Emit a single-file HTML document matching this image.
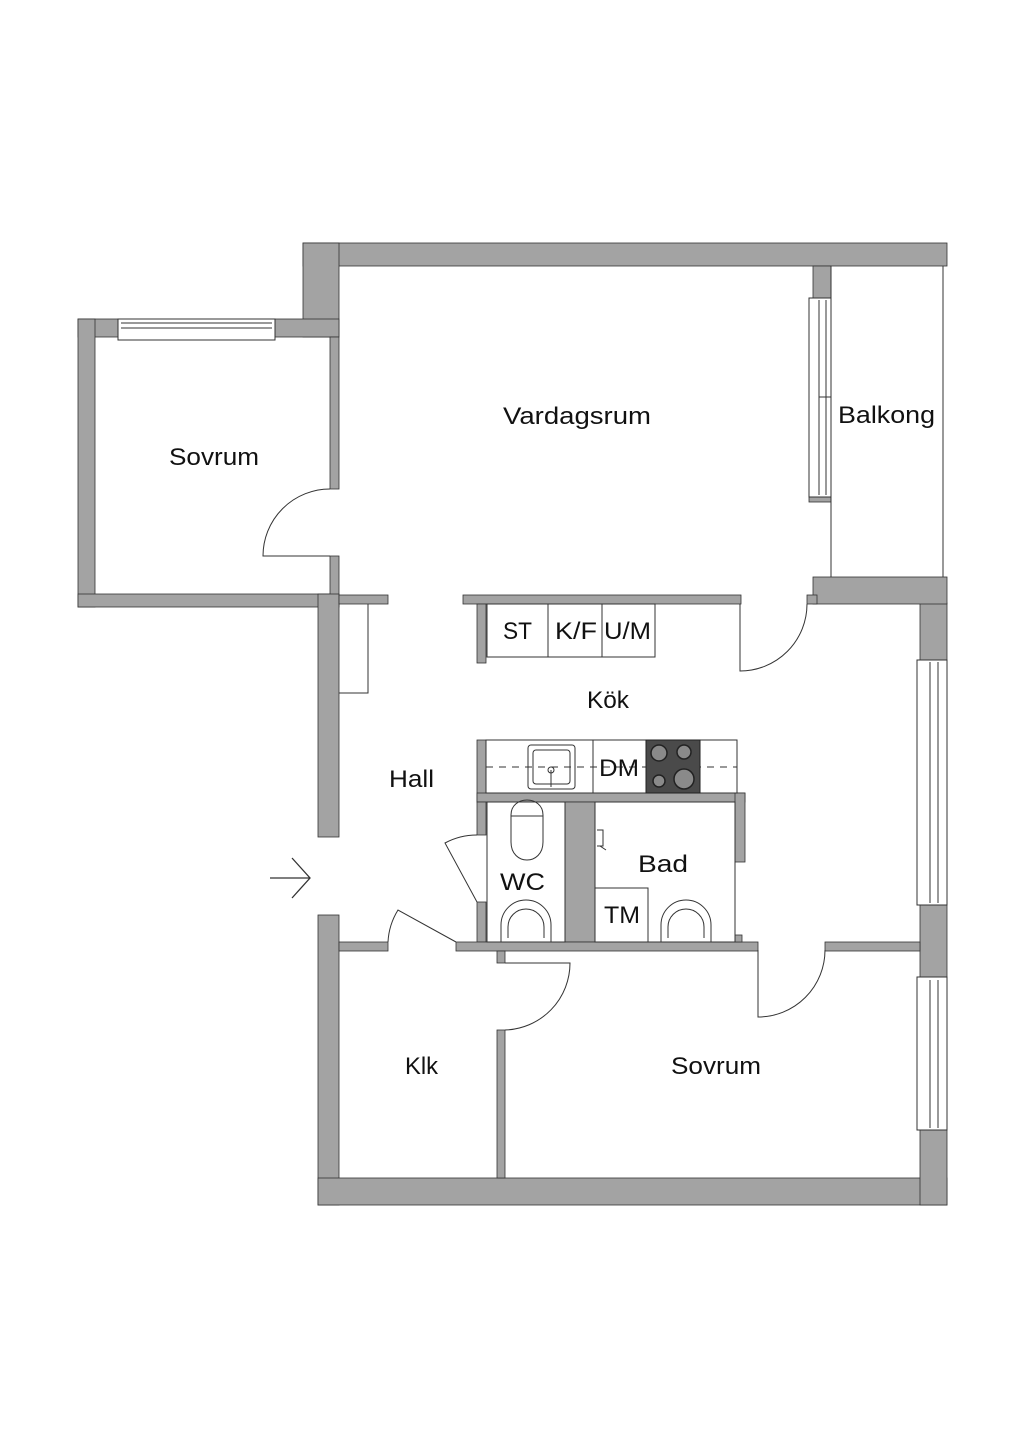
<!DOCTYPE html>
<html><head><meta charset="utf-8"><style>
html,body{margin:0;padding:0;background:#fff;}
svg{display:block;}
text{font-family:"Liberation Sans",sans-serif;fill:#111;}
</style></head><body>
<svg width="1024" height="1448" viewBox="0 0 1024 1448" xmlns="http://www.w3.org/2000/svg">
<g fill="#a3a3a3" stroke="#333" stroke-width="0.8">
<rect x="303" y="243" width="644" height="23"/>
<rect x="303" y="243" width="36" height="94"/>
<rect x="78" y="319" width="40" height="18"/>
<rect x="275" y="319" width="64" height="18"/>
<rect x="78" y="319" width="17" height="288"/>
<rect x="78" y="594" width="261" height="13"/>
<rect x="330" y="337" width="9" height="152"/>
<rect x="330" y="556" width="9" height="51"/>
<rect x="318" y="594" width="21" height="243"/>
<rect x="339" y="595" width="49" height="9"/>
<rect x="318" y="915" width="21" height="290"/>
<rect x="318" y="1178" width="629" height="27"/>
<rect x="920" y="603" width="27" height="58"/>
<rect x="920" y="905" width="27" height="72"/>
<rect x="920" y="1130" width="27" height="75"/>
<rect x="813" y="266" width="18" height="32"/>
<rect x="809" y="497" width="22" height="5"/>
<rect x="813" y="577" width="134" height="27"/>
<rect x="807" y="595" width="10" height="9"/>
<rect x="463" y="595" width="278" height="9"/>
<rect x="477" y="604" width="9" height="59"/>
<rect x="477" y="740" width="9" height="62"/>
<rect x="477" y="793" width="268" height="9"/>
<rect x="735" y="793" width="10" height="69"/>
<rect x="565" y="802" width="30" height="140"/>
<rect x="477" y="802" width="9" height="33"/>
<rect x="477" y="902" width="9" height="40"/>
<rect x="456" y="942" width="302" height="9"/>
<rect x="735" y="935" width="7" height="7"/>
<rect x="497" y="951" width="8" height="12"/>
<rect x="339" y="942" width="49" height="9"/>
<rect x="825" y="942" width="95" height="9"/>
<rect x="497" y="1030" width="8" height="148"/>
</g>
<g fill="none" stroke="#333" stroke-width="1">
<rect x="118" y="319" width="157" height="21" fill="#fff"/>
<line x1="121" y1="323" x2="272" y2="323"/><line x1="121" y1="328" x2="272" y2="328"/>
<rect x="809" y="298" width="22" height="199" fill="#fff"/>
<line x1="819" y1="300" x2="819" y2="495"/><line x1="826" y1="300" x2="826" y2="495"/><line x1="819" y1="397" x2="831" y2="397"/>
<rect x="917" y="660" width="30" height="245" fill="#fff"/>
<line x1="930" y1="662" x2="930" y2="903"/><line x1="938" y1="662" x2="938" y2="903"/>
<rect x="917" y="977" width="30" height="153" fill="#fff"/>
<line x1="930" y1="980" x2="930" y2="1128"/><line x1="938" y1="980" x2="938" y2="1128"/>
<line x1="831" y1="266" x2="831" y2="577"/><line x1="943" y1="266" x2="943" y2="577"/>
<path d="M330 489 A67 67 0 0 0 263 556 L330 556"/>
<path d="M807 604 A67 67 0 0 1 740 671 L740 604"/>
<path d="M825 950 A67 67 0 0 1 758 1017 L758 950"/>
<path d="M505 963 L570 963 A67 67 0 0 1 505 1030"/>
<path d="M477 902 L445 843 A67 67 0 0 1 477 835"/>
<path d="M456 942 L398 910 A67 67 0 0 0 388 942"/>
<path d="M339 693 L368 693 L368 604"/>
<rect x="487" y="604" width="168" height="53"/>
<line x1="548" y1="604" x2="548" y2="657"/><line x1="602" y1="604" x2="602" y2="657"/>
<rect x="486" y="740" width="251" height="53"/>
<line x1="593" y1="740" x2="593" y2="793"/>
<line x1="486" y1="767" x2="737" y2="767" stroke-dasharray="7,6"/>
<rect x="528" y="745" width="47" height="44" rx="3"/>
<rect x="533" y="750" width="37" height="34" rx="3"/>
<line x1="551" y1="770" x2="551" y2="787"/>
<circle cx="551" cy="770" r="3"/>
<path d="M511 815 C511 795 543 795 543 815 L543 842 C543 866 511 866 511 842 Z"/>
<line x1="511" y1="816" x2="543" y2="816"/>
<rect x="487" y="802" width="78" height="140"/>
<path d="M501 942 L501 925 A25 25 0 0 1 551 925 L551 942"/>
<path d="M508 938 L508 927 A18 18 0 0 1 544 927 L544 938"/>
<path d="M661 942 L661 925 A25 25 0 0 1 711 925 L711 942"/>
<path d="M668 938 L668 927 A18 18 0 0 1 704 927 L704 938"/>
<rect x="595" y="888" width="53" height="54"/>
<rect x="595" y="802" width="140" height="140"/>
<path d="M597 830 L603 830 L603 846 L597 846 M600 846 L606 850"/>
<path d="M270 878 L310 878 M292 858 L310 878 L292 898" stroke-width="1.3"/>
</g>
<rect x="646" y="740" width="54" height="53" fill="#4a4a4a" stroke="#222"/>
<g fill="#8a8a8a" stroke="#222" stroke-width="1.5">
<circle cx="659" cy="753" r="8"/><circle cx="684" cy="752" r="7"/>
<circle cx="659" cy="781" r="6"/><circle cx="684" cy="779" r="10"/>
</g>
<g font-size="24" lengthAdjust="spacingAndGlyphs">
<text x="503" y="424" textLength="148" lengthAdjust="spacingAndGlyphs">Vardagsrum</text>
<text x="169" y="465" textLength="90" lengthAdjust="spacingAndGlyphs">Sovrum</text>
<text x="838" y="423" textLength="97" lengthAdjust="spacingAndGlyphs">Balkong</text>
<text x="587" y="708" textLength="42" lengthAdjust="spacingAndGlyphs">Kök</text>
<text x="389" y="787" textLength="45" lengthAdjust="spacingAndGlyphs">Hall</text>
<text x="500" y="890" textLength="45" lengthAdjust="spacingAndGlyphs">WC</text>
<text x="638" y="872" textLength="50" lengthAdjust="spacingAndGlyphs">Bad</text>
<text x="604" y="923" textLength="36" lengthAdjust="spacingAndGlyphs">TM</text>
<text x="405" y="1074" textLength="33" lengthAdjust="spacingAndGlyphs">Klk</text>
<text x="671" y="1074" textLength="90" lengthAdjust="spacingAndGlyphs">Sovrum</text>
<text x="503" y="639" textLength="29" lengthAdjust="spacingAndGlyphs">ST</text>
<text x="555" y="639" textLength="42" lengthAdjust="spacingAndGlyphs">K/F</text>
<text x="604" y="639" textLength="47" lengthAdjust="spacingAndGlyphs">U/M</text>
<text x="599" y="776" textLength="40" lengthAdjust="spacingAndGlyphs">DM</text>
</g>
</svg>
</body></html>
